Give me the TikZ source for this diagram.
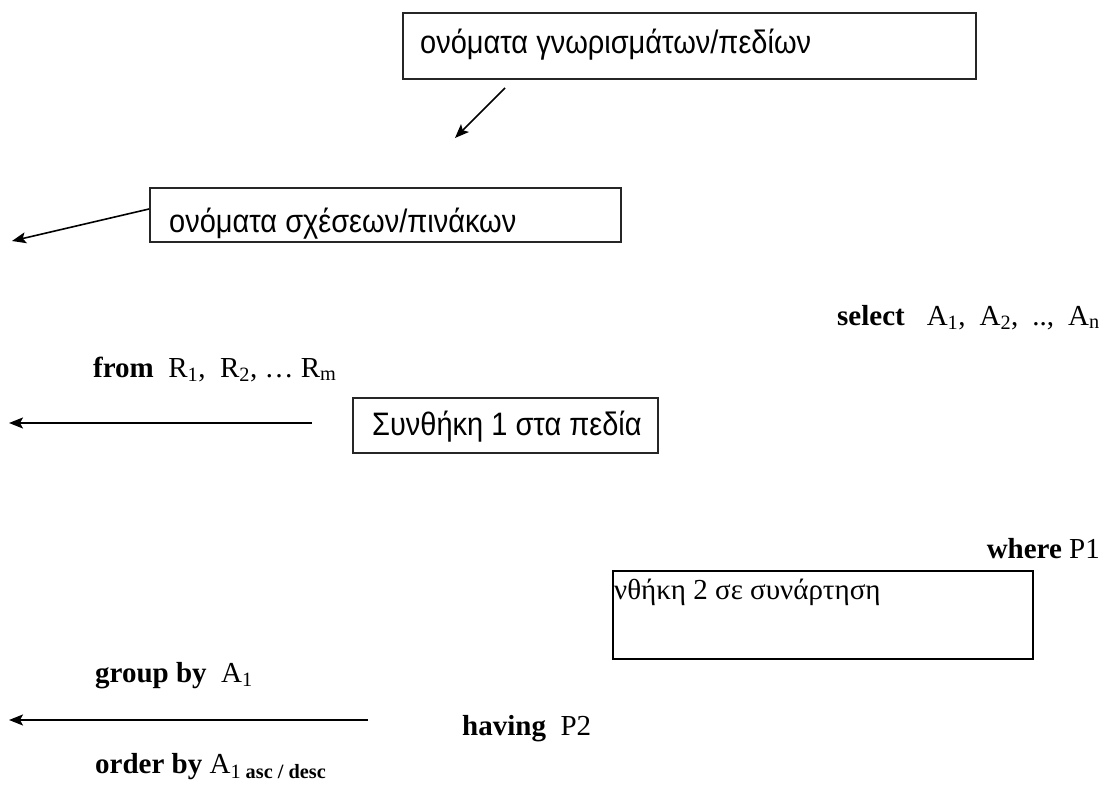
\documentclass[tikz,border=0pt]{standalone}
\usepackage{fontspec}
\usepackage{graphicx}
\setmainfont{Liberation Serif}
\newfontfamily\grsans{Liberation Sans}
\usetikzlibrary{arrows.meta}
% sans labels are set slightly taller than wide
\newcommand{\tallsans}[1]{\scalebox{1}[1.12]{#1}}
\begin{document}
\begin{tikzpicture}[x=1pt,y=-1pt,
  frame/.style={draw=black!85, line width=1.6pt, inner sep=0pt, anchor=north west},
  boxtext/.style={font=\grsans\fontsize{29}{33}\selectfont, anchor=base west, inner sep=0pt},
  sqltext/.style={font=\fontsize{29}{33}\selectfont, anchor=base west, inner sep=0pt},
  pointer/.style={line width=1.6pt, -{Stealth[length=14pt,width=11pt,inset=3pt]}}]
\useasboundingbox[fill=white] (0,0) rectangle (1103,785);

% attribute names box and its pointer
\node[frame, minimum width=573pt, minimum height=66pt] (b1) at (402,12) {};
\node[boxtext] (t1) at (420,53) {\tallsans{ονόματα γνωρισμάτων/πεδίων}};
\coordinate (a1s) at (505,88);
\coordinate (a1e) at (455,138);
\draw[pointer] (a1s) -- (a1e);

% relation names box and its pointer
\node[frame, minimum width=471pt, minimum height=54pt] (b2) at (149,187) {};
\node[boxtext] (t2) at (169,232) {\tallsans{ονόματα σχέσεων/πινάκων}};
\coordinate (a2s) at (149,209);
\coordinate (a2e) at (12,241);
\draw[pointer] (a2s) -- (a2e);

% select / from clauses
\node[sqltext, anchor=base east] (sel) at (1100,325) {\textbf{select}\hspace{22pt}A\textsubscript{1},\hspace{14pt}A\textsubscript{2},\hspace{14pt}..,\hspace{14pt}A\textsubscript{n}};
\node[sqltext] (from) at (93,377) {\textbf{from}\ \ R\textsubscript{1},\ \ R\textsubscript{2}, … R\textsubscript{m}};

% condition on fields
\coordinate (a3s) at (312,423);
\coordinate (a3e) at (9,423);
\draw[pointer] (a3s) -- (a3e);
\node[frame, minimum width=305pt, minimum height=55pt] (b3) at (352,397) {};
\node[boxtext] (t3) at (372,435) {\tallsans{Συνθήκη 1 στα πεδία}};

% where clause
\node[sqltext, anchor=base east] (whr) at (1100,558) {\textbf{where} P1};

% condition on aggregate
\node[frame, draw=black, line width=2pt, minimum width=420pt, minimum height=88pt] (b4) at (612,570) {};
\node[sqltext] (t4) at (614,599) {νθήκη 2 σε συνάρτηση};

% group by / having / order by
\node[sqltext] (grp) at (95,682) {\textbf{group by}\ \ A\textsubscript{1}};
\coordinate (a4s) at (368,720);
\coordinate (a4e) at (9,720);
\draw[pointer] (a4s) -- (a4e);
\node[sqltext] (hav) at (462,735) {\textbf{having}\ \ P2};
\node[sqltext] (ord) at (95,773) {\textbf{order by} A\textsubscript{1 \textbf{asc / desc}}};
\end{tikzpicture}
\end{document}
